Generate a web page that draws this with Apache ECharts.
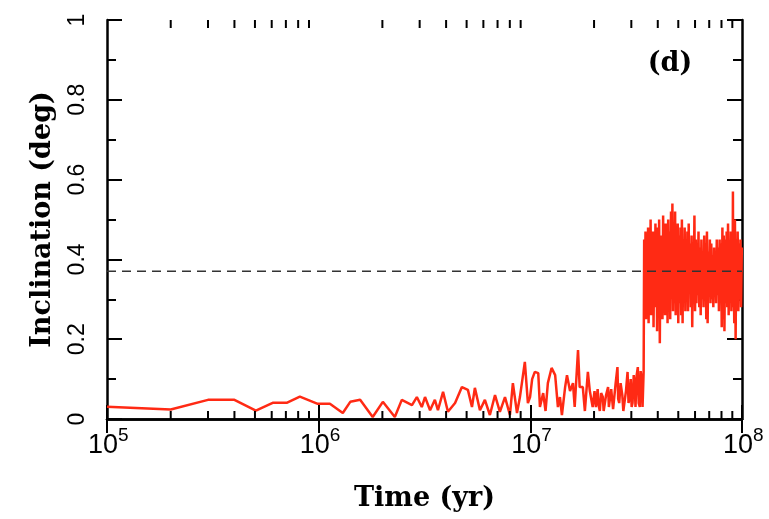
<!DOCTYPE html>
<html>
<head>
<meta charset="utf-8">
<script src="https://cdn.jsdelivr.net/npm/echarts@6/dist/echarts.min.js"></script>
<style>
html,body{margin:0;padding:0;background:#fff;}
#chart{width:769px;height:519px;}
</style>
</head>
<body>
<div id="chart"></div>
<script>
// ---- Data (time in yr, inclination in deg) ----
var timeEarly = [1.0e5, 2.0e5, 3.0e5, 4.0e5, 5.05e5, 6.1e5, 7.1e5, 8.15e5, 9.9e5, 1.13e6, 1.30e6,
  1.41e6, 1.57e6, 1.80e6, 2.01e6, 2.29e6, 2.47e6, 2.76e6, 2.91e6, 3.07e6, 3.18e6, 3.36e6,
  3.54e6, 3.66e6, 3.87e6, 4.08e6, 4.41e6, 4.75e6, 5.07e6, 5.30e6, 5.47e6, 5.78e6,
  6.10e6, 6.44e6, 6.81e6, 7.18e6, 7.59e6, 8.01e6, 8.27e6, 8.65e6, 8.93e6];
var inclEarly = [0.031, 0.024, 0.048, 0.048, 0.021, 0.041, 0.041, 0.056, 0.038, 0.038, 0.015,
  0.043, 0.048, 0.005, 0.043, 0.005, 0.048, 0.035, 0.055, 0.030, 0.055, 0.022,
  0.048, 0.022, 0.068, 0.018, 0.040, 0.080, 0.073, 0.030, 0.078, 0.022,
  0.048, 0.010, 0.060, 0.018, 0.055, 0.010, 0.090, 0.015, 0.055];

var timeMid = [9.42e6, 9.74e6, 9.97e6, 1.02e7, 1.05e7, 1.09e7, 1.11e7, 1.15e7, 1.18e7, 1.21e7,
  1.26e7, 1.31e7, 1.35e7, 1.38e7, 1.41e7, 1.46e7, 1.49e7, 1.54e7, 1.59e7, 1.62e7,
  1.68e7, 1.71e7, 1.77e7, 1.81e7, 1.87e7, 1.91e7, 1.97e7, 2.01e7, 2.04e7, 2.08e7,
  2.10e7, 2.13e7, 2.16e7, 2.20e7, 2.22e7, 2.25e7, 2.28e7, 2.33e7, 2.35e7, 2.38e7,
  2.41e7, 2.44e7, 2.46e7, 2.49e7, 2.53e7, 2.58e7, 2.60e7, 2.63e7, 2.67e7, 2.72e7,
  2.75e7, 2.78e7, 2.83e7, 2.88e7, 2.91e7, 2.94e7, 2.98e7, 3.01e7, 3.04e7, 3.08e7,
  3.11e7, 3.14e7, 3.18e7, 3.22e7, 3.25e7, 3.29e7, 3.32e7, 3.36e7, 3.39e7, 3.43e7];
var inclMid = [0.143, 0.040, 0.055, 0.100, 0.118, 0.115, 0.030, 0.065, 0.020, 0.090,
  0.128, 0.110, 0.030, 0.055, 0.010, 0.080, 0.110, 0.070, 0.090, 0.030,
  0.173, 0.080, 0.080, 0.020, 0.118, 0.070, 0.030, 0.070, 0.030, 0.075,
  0.035, 0.020, 0.065, 0.055, 0.020, 0.015, 0.060, 0.080, 0.030, 0.030,
  0.075, 0.070, 0.025, 0.020, 0.090, 0.130, 0.050, 0.040, 0.090, 0.060,
  0.020, 0.015, 0.070, 0.118, 0.040, 0.050, 0.100, 0.030, 0.040, 0.110,
  0.090, 0.030, 0.110, 0.130, 0.040, 0.030, 0.120, 0.100, 0.030, 0.120];

var timeLate = [
  3.45e7, 3.47e7, 3.50e7, 3.52e7, 3.55e7, 3.57e7, 3.60e7, 3.62e7, 3.65e7, 3.67e7,
  3.70e7, 3.72e7, 3.75e7, 3.77e7, 3.80e7, 3.82e7, 3.85e7, 3.87e7, 3.90e7, 3.92e7,
  3.95e7, 3.97e7, 4.00e7, 4.03e7, 4.06e7, 4.09e7, 4.12e7, 4.15e7, 4.18e7, 4.21e7,
  4.24e7, 4.27e7, 4.30e7, 4.33e7, 4.36e7, 4.39e7, 4.42e7, 4.45e7, 4.48e7, 4.51e7,
  4.55e7, 4.58e7, 4.62e7, 4.65e7, 4.69e7, 4.72e7, 4.76e7, 4.79e7, 4.83e7, 4.86e7,
  4.90e7, 4.93e7, 4.97e7, 5.00e7, 5.04e7, 5.08e7, 5.12e7, 5.16e7, 5.20e7, 5.24e7,
  5.28e7, 5.32e7, 5.36e7, 5.40e7, 5.44e7, 5.48e7, 5.52e7, 5.56e7, 5.60e7, 5.64e7,
  5.69e7, 5.73e7, 5.78e7, 5.82e7, 5.87e7, 5.91e7, 5.96e7, 6.00e7, 6.05e7, 6.09e7,
  6.14e7, 6.18e7, 6.23e7, 6.28e7, 6.33e7, 6.38e7, 6.43e7, 6.48e7, 6.53e7, 6.58e7,
  6.63e7, 6.68e7, 6.73e7, 6.78e7, 6.83e7, 6.88e7, 6.94e7, 6.99e7, 7.05e7, 7.10e7,
  7.16e7, 7.21e7, 7.27e7, 7.32e7, 7.38e7, 7.43e7, 7.49e7, 7.54e7, 7.60e7, 7.66e7,
  7.72e7, 7.78e7, 7.84e7, 7.90e7, 7.96e7, 8.02e7, 8.08e7, 8.14e7, 8.20e7, 8.26e7,
  8.33e7, 8.39e7, 8.46e7, 8.52e7, 8.59e7, 8.65e7, 8.72e7, 8.78e7, 8.85e7, 8.91e7,
  8.98e7, 9.02e7, 9.06e7, 9.09e7, 9.12e7, 9.19e7, 9.26e7, 9.33e7, 9.40e7, 9.47e7,
  9.54e7, 9.61e7, 9.68e7, 9.75e7, 9.83e7, 9.90e7, 9.98e7];
var inclLate = [
  0.45, 0.27, 0.47, 0.25, 0.44, 0.30, 0.48, 0.24, 0.43, 0.29,
  0.50, 0.26, 0.46, 0.31, 0.47, 0.23, 0.45, 0.30, 0.49, 0.28,
  0.44, 0.22, 0.48, 0.27, 0.50, 0.19, 0.46, 0.30, 0.45, 0.25,
  0.51, 0.29, 0.47, 0.26, 0.49, 0.31, 0.46, 0.24, 0.50, 0.28,
  0.47, 0.25, 0.52, 0.30, 0.54, 0.27, 0.49, 0.29, 0.52, 0.26,
  0.47, 0.31, 0.49, 0.24, 0.46, 0.29, 0.48, 0.26, 0.50, 0.24,
  0.45, 0.30, 0.48, 0.27, 0.44, 0.31, 0.47, 0.27, 0.49, 0.32,
  0.44, 0.28, 0.46, 0.23, 0.43, 0.30, 0.51, 0.27, 0.45, 0.29,
  0.44, 0.31, 0.47, 0.28, 0.43, 0.26, 0.45, 0.30, 0.42, 0.28,
  0.46, 0.30, 0.44, 0.25, 0.47, 0.24, 0.42, 0.31, 0.45, 0.29,
  0.44, 0.30, 0.41, 0.28, 0.43, 0.33, 0.42, 0.29, 0.45, 0.31,
  0.43, 0.27, 0.45, 0.30, 0.44, 0.23, 0.48, 0.25, 0.46, 0.22,
  0.45, 0.29, 0.47, 0.28, 0.49, 0.26, 0.44, 0.31, 0.47, 0.27,
  0.46, 0.30, 0.57, 0.28, 0.48, 0.24, 0.50, 0.20, 0.45, 0.29,
  0.47, 0.27, 0.44, 0.30, 0.45, 0.28, 0.43];

var meanIncl = 0.37;
var xMin = 1e5, xMax = 1e8;
var xMinorTicks = [2e5,3e5,4e5,5e5,6e5,7e5,8e5,9e5, 2e6,3e6,4e6,5e6,6e6,7e6,8e6,9e6, 2e7,3e7,4e7,5e7,6e7,7e7,8e7,9e7];
var xTickValues = [1e5, 1e6, 1e7, 1e8];
var xTickExponents = ['5', '6', '7', '8'];
var yTickValues = [0, 0.2, 0.4, 0.6, 0.8, 1];
var yTickLabels = ['0', '0.2', '0.4', '0.6', '0.8', '1'];
var panelLabel = '(d)';

// ---- Build ----
var times = timeEarly.concat(timeMid, timeLate);
var incl = inclEarly.concat(inclMid, inclLate);
var lineData = times.map(function (t, i) { return [t, incl[i]]; });

var chart = echarts.init(document.getElementById('chart'), null, {renderer: 'canvas'});
var black = '#000';
var sansFont = '"Liberation Sans", Arial, sans-serif';
var serifFont = '"DejaVu Serif", serif';

var option = {
  animation: false,
  backgroundColor: '#fff',
  grid: {left: 107, right: 27, top: 20, bottom: 100, containLabel: false},
  xAxis: [{
    type: 'log', logBase: 10, min: xMin, max: xMax, position: 'bottom',
    name: 'Time (yr)', nameLocation: 'middle', nameGap: 66,
    nameTextStyle: {fontFamily: serifFont, fontWeight: 'bold', fontSize: 27, color: black},
    axisLine: {show: true, lineStyle: {color: black, width: 2.5}},
    axisTick: {show: true, inside: true, length: 14, lineStyle: {color: black, width: 2}},
    splitLine: {show: false},
    axisLabel: {show: false}
  }, {
    type: 'log', logBase: 10, min: xMin, max: xMax, position: 'top',
    axisLine: {show: true, lineStyle: {color: black, width: 2.5}},
    axisTick: {show: true, inside: true, length: 14, lineStyle: {color: black, width: 2}},
    axisLabel: {show: false}, splitLine: {show: false}
  }],
  yAxis: [{
    type: 'value', min: 0, max: 1, interval: 0.2, position: 'left',
    name: 'Inclination (deg)', nameLocation: 'middle', nameGap: 51, nameRotate: 90,
    nameTextStyle: {fontFamily: serifFont, fontWeight: 'bold', fontSize: 27, color: black},
    axisLine: {show: true, lineStyle: {color: black, width: 2.5}},
    axisTick: {show: true, inside: true, length: 15, lineStyle: {color: black, width: 2}},
    minorTick: {show: true, splitNumber: 2, length: 9, lineStyle: {color: black, width: 2}},
    splitLine: {show: false},
    axisLabel: {show: false}
  }, {
    type: 'value', min: 0, max: 1, interval: 0.2, position: 'right',
    axisLine: {show: true, lineStyle: {color: black, width: 2.5}},
    axisTick: {show: true, inside: true, length: 15, lineStyle: {color: black, width: 2}},
    minorTick: {show: true, splitNumber: 2, length: 9, lineStyle: {color: black, width: 2}},
    splitLine: {show: false}, axisLabel: {show: false}
  }],
  graphic: [{
    type: 'text', x: 670, y: 64,
    style: {text: panelLabel, fontFamily: serifFont, fontWeight: 'bold', fontSize: 27, fill: black,
      align: 'center', verticalAlign: 'middle'}
  }],
  series: [{
    type: 'line', data: lineData, xAxisIndex: 0, yAxisIndex: 0,
    showSymbol: false, symbol: 'none', smooth: false,
    lineStyle: {color: '#ff2a14', width: 2.5}, z: 3
  }, {
    type: 'line', data: [[xMin, meanIncl], [xMax, meanIncl]], xAxisIndex: 0, yAxisIndex: 0,
    showSymbol: false, symbol: 'none',
    lineStyle: {color: '#333', width: 1.5, type: [9, 6]}, z: 4
  }, {
    // minor log ticks (bottom and top)
    type: 'custom', xAxisIndex: 0, yAxisIndex: 0, z: 5, clip: false,
    data: xMinorTicks.map(function (t) { return [t, 0]; }),
    renderItem: function (params, api) {
      var t = api.value(0);
      var pb = api.coord([t, 0]);
      var pt = api.coord([t, 1]);
      var st = {stroke: black, lineWidth: 2};
      return {type: 'group', children: [
        {type: 'line', shape: {x1: pb[0], y1: pb[1], x2: pb[0], y2: pb[1] - 8}, style: st},
        {type: 'line', shape: {x1: pt[0], y1: pt[1], x2: pt[0], y2: pt[1] + 8}, style: st}
      ]};
    }
  }, {
    // x tick labels 10^n
    type: 'custom', xAxisIndex: 0, yAxisIndex: 0, z: 6, clip: false,
    data: xTickValues.map(function (t, i) { return [t, 0, i]; }),
    renderItem: function (params, api) {
      var p = api.coord([api.value(0), 0]);
      var i = api.value(2);
      return {type: 'group', children: [
        {type: 'text', x: p[0] + 11, y: p[1] + 27,
          style: {text: '10', font: '27px ' + sansFont, fill: black, align: 'right', verticalAlign: 'middle'}},
        {type: 'text', x: p[0] + 11, y: p[1] + 17,
          style: {text: xTickExponents[i], font: '19px ' + sansFont, fill: black, align: 'left', verticalAlign: 'middle'}}
      ]};
    }
  }, {
    // y tick labels, rotated
    type: 'custom', xAxisIndex: 0, yAxisIndex: 0, z: 6, clip: false,
    data: yTickValues.map(function (v, i) { return [xMin, v, i]; }),
    renderItem: function (params, api) {
      var p = api.coord([xMin, api.value(1)]);
      var i = api.value(2);
      return {type: 'text', x: p[0] - 29, y: p[1], rotation: Math.PI / 2,
        style: {text: yTickLabels[i], font: '23px ' + sansFont, fill: black, align: 'center', verticalAlign: 'middle'}};
    }
  }]
};
chart.setOption(option);
</script>
</body>
</html>
